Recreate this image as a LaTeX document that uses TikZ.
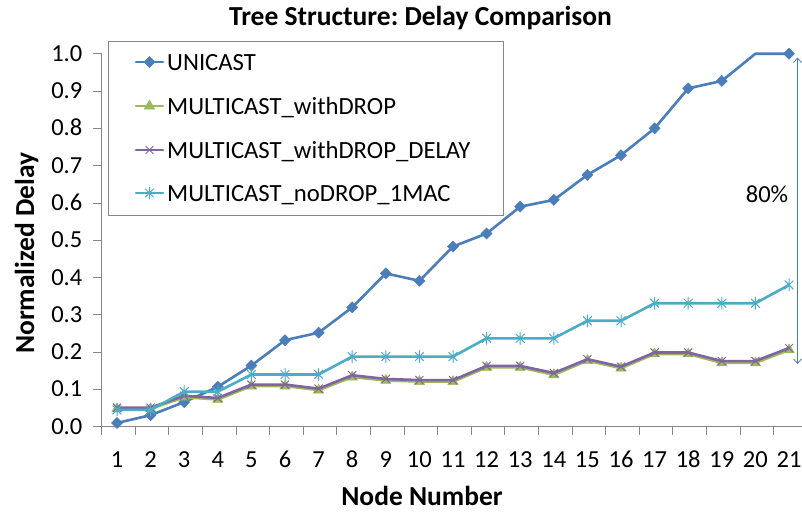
\documentclass[tikz,border=0pt]{standalone}
\usepackage{fontspec}
\setmainfont{Carlito}
\usetikzlibrary{plotmarks,arrows.meta}
\definecolor{cUni}{HTML}{4A7EBB}
\definecolor{cGreen}{HTML}{9BBB59}
\definecolor{cPurple}{HTML}{8064A2}
\definecolor{cCyan}{HTML}{4BACC6}
\definecolor{cAxis}{HTML}{868686}
\pgfdeclareplotmark{xstar}{%
  \pgfpathmoveto{\pgfqpoint{-.7071\pgfplotmarksize}{-.7071\pgfplotmarksize}}%
  \pgfpathlineto{\pgfqpoint{.7071\pgfplotmarksize}{.7071\pgfplotmarksize}}%
  \pgfpathmoveto{\pgfqpoint{-.7071\pgfplotmarksize}{.7071\pgfplotmarksize}}%
  \pgfpathlineto{\pgfqpoint{.7071\pgfplotmarksize}{-.7071\pgfplotmarksize}}%
  \pgfpathmoveto{\pgfqpoint{0pt}{-\pgfplotmarksize}}%
  \pgfpathlineto{\pgfqpoint{0pt}{\pgfplotmarksize}}%
  \pgfusepathqstroke}
\tikzset{
  axisline/.style={draw=cAxis, line width=0.8pt},
  ticklabel/.style={font=\fontsize{24.5}{24.5}\selectfont, text=black, inner sep=0pt},
  legtext/.style={font=\fontsize{24.7}{24.7}\selectfont, anchor=base west, inner sep=0pt},
  boldlabel/.style={font=\fontsize{27.5}{27.5}\selectfont\bfseries, inner sep=0pt},
  series/.style={line width=2.6pt, line join=round, line cap=round},
  uniline/.style={series, draw=cUni},
  greenline/.style={series, draw=cGreen},
  purpleline/.style={series, draw=cPurple},
  cyanline/.style={series, draw=cCyan},
  unimark/.style={mark=square*, mark size=3.9pt, mark options={rotate=45, fill=cUni, draw=cUni, line width=0.5pt}},
  greenmark/.style={mark=triangle*, mark size=6pt, mark options={fill=cGreen, draw=cGreen, line width=0.5pt}},
  purplemark/.style={mark=x, mark size=5.5pt, mark options={draw=cPurple, line width=1pt}},
  cyanmark/.style={mark=xstar, mark size=6pt, mark options={draw=cCyan, line width=1pt}},
}
\begin{document}
\frenchspacing
\begin{tikzpicture}[x=1pt,y=-1pt]
\useasboundingbox (0,0) rectangle (802,512);
\fill[white] (0,0) rectangle (802,512);
\clip (0,0) rectangle (802,512);

% title
\node[boldlabel, anchor=base] (title) at (420.5,25) {Tree Structure: Delay Comparison};

% axes
\draw[axisline] (101.5,53.7) -- (101.5,426.7) -- (802,426.7);
\foreach \i/\t in {0/0.0,1/0.1,2/0.2,3/0.3,4/0.4,5/0.5,6/0.6,7/0.7,8/0.8,9/0.9,10/1.0}{
  \draw[axisline] (93,426.7-37.3*\i) -- (101.5,426.7-37.3*\i);
  \node[ticklabel, anchor=base east] (yt\i) at (82.5,426.7-37.3*\i+7.5) {\t};
}
\foreach \k in {0,...,20}{
  \draw[axisline] (101.5+33.6*\k,426.7) -- (101.5+33.6*\k,435);
}
\foreach \n in {1,...,21}{
  \node[ticklabel, anchor=base] (xt\n) at (117+33.6*\n-33.6,467.5) {\n};
}
\node[boldlabel, anchor=base] (xlabel) at (422,505.5) {Node Number};
\node[boldlabel, rotate=90, anchor=base] (ylabel) at (34,253) {Normalized Delay};

% data
\begin{scope}[shift={(83.4,426.7)}, x=33.6pt, y=373pt]
  \draw[uniline] plot coordinates {(1,0.010) (2,0.031) (3,0.066) (4,0.107) (5,0.164) (6,0.232) (7,0.252) (8,0.320) (9,0.411) (10,0.391) (11,0.483) (12,0.518) (13,0.590) (14,0.608) (15,0.675) (16,0.728) (17,0.800) (18,0.907) (19,0.927) (20,1.0) (21,1.0)};
  \draw[draw=none] plot[only marks, unimark] coordinates {(1,0.010) (2,0.031) (3,0.066) (4,0.107) (5,0.164) (6,0.232) (7,0.252) (8,0.320) (9,0.411) (10,0.391) (11,0.483) (12,0.518) (13,0.590) (14,0.608) (15,0.675) (16,0.728) (17,0.800) (18,0.907) (19,0.927) (21,1.0)};
  \draw[greenline] plot[greenmark] coordinates {(1,0.048) (2,0.048) (3,0.079) (4,0.073) (5,0.109) (6,0.109) (7,0.098) (8,0.133) (9,0.124) (10,0.121) (11,0.121) (12,0.159) (13,0.159) (14,0.139) (15,0.177) (16,0.157) (17,0.195) (18,0.195) (19,0.171) (20,0.171) (21,0.206)};
  \draw[purpleline] plot[purplemark] coordinates {(1,0.051) (2,0.051) (3,0.083) (4,0.077) (5,0.113) (6,0.113) (7,0.102) (8,0.138) (9,0.128) (10,0.125) (11,0.125) (12,0.163) (13,0.163) (14,0.144) (15,0.181) (16,0.161) (17,0.199) (18,0.199) (19,0.176) (20,0.176) (21,0.211)};
  \draw[cyanline] plot[cyanmark] coordinates {(1,0.045) (2,0.045) (3,0.094) (4,0.094) (5,0.140) (6,0.140) (7,0.140) (8,0.188) (9,0.188) (10,0.188) (11,0.188) (12,0.237) (13,0.237) (14,0.237) (15,0.284) (16,0.284) (17,0.331) (18,0.331) (19,0.331) (20,0.331) (21,0.380)};
\end{scope}

% 80% arrow
\coordinate (atop) at (797.5,57.5);
\coordinate (abot) at (797.5,364);
\draw[cUni, line width=0.8pt, {Straight Barb[length=4.5pt,width=8pt]}-{Straight Barb[length=4.5pt,width=8pt]}] (atop) -- (abot);
\node[ticklabel, anchor=base] (pct) at (767,202) {80\%};

% legend
\node[draw=cAxis, line width=0.8pt, fill=white, minimum width=395pt, minimum height=174.3pt, inner sep=0pt, anchor=north west] (legend) at (108,40.7) {};
\draw[uniline] (136,62) -- (163,62);
\draw[draw=none] plot[only marks, unimark] coordinates {(149.5,62)};
\node[legtext] (l1) at (167,70.5) {UNICAST};
\draw[greenline] (136,106) -- (163,106);
\draw[draw=none] plot[only marks, greenmark] coordinates {(149.5,106)};
\node[legtext] (l2) at (167,114.5) {MULTICAST\_withDROP};
\draw[purpleline] (136,150) -- (163,150);
\draw[draw=none] plot[only marks, purplemark] coordinates {(149.5,150)};
\node[legtext] (l3) at (167,158.5) {MULTICAST\_withDROP\_DELAY};
\draw[cyanline] (136,193) -- (163,193);
\draw[draw=none] plot[only marks, cyanmark] coordinates {(149.5,193)};
\node[legtext] (l4) at (167,201.5) {MULTICAST\_noDROP\_1MAC};
\end{tikzpicture}
\end{document}
